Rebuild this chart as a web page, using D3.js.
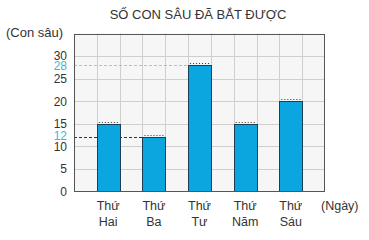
<!DOCTYPE html>
<html>
<head>
<meta charset="utf-8">
<script src="https://cdn.jsdelivr.net/npm/d3@7"></script>
<style>
body { margin: 0; background: #fff; }
text { font-family: "Liberation Sans", Arial, sans-serif; fill: #333; }
</style>
</head>
<body>
<script>
// Days (two-line labels) and number of bugs caught
var days_top = ["Thứ", "Thứ", "Thứ", "Thứ", "Thứ"];
var days_bottom = ["Hai", "Ba", "Tư", "Năm", "Sáu"];
var bugs = [15, 12, 28, 15, 20];
var y_ticks = [0, 5, 10, 15, 20, 25, 30];
var marked = [28, 12]; // values highlighted on the axis

var width = 369, height = 240;
var plot_left = 74, plot_right = 325, plot_top = 33.5, plot_bottom = 191;
var num_cols = 11;

var svg = d3.select("body").append("svg").attr("width", width).attr("height", height);

var x = d3.scaleLinear().domain([0, num_cols]).range([plot_left, plot_right]);
var y = d3.scaleLinear().domain([0, 35]).range([plot_bottom, plot_top]);

// background of the plot area
svg.append("rect")
    .attr("x", plot_left).attr("y", plot_top)
    .attr("width", plot_right - plot_left).attr("height", plot_bottom - plot_top)
    .style("fill", "#f6f6f6");

// grid
svg.selectAll(".vgrid").data(d3.range(1, num_cols)).enter().append("line")
    .attr("x1", function(d){ return Math.round(x(d)) + 0.5; })
    .attr("x2", function(d){ return Math.round(x(d)) + 0.5; })
    .attr("y1", plot_top).attr("y2", plot_bottom)
    .style("stroke", "#cfcfcf");
svg.selectAll(".hgrid").data(d3.range(5, 35, 5)).enter().append("line")
    .attr("x1", plot_left).attr("x2", plot_right)
    .attr("y1", function(d){ return Math.round(y(d)) + 0.5; })
    .attr("y2", function(d){ return Math.round(y(d)) + 0.5; })
    .style("stroke", "#cfcfcf");

// dashed guides for marked values, from axis to the bar
function barIndexOf(v){ return bugs.indexOf(v); }
svg.selectAll(".guide").data(marked).enter().append("line")
    .attr("x1", plot_left)
    .attr("x2", function(d){ return x(barIndexOf(d) * 2 + 1); })
    .attr("y1", function(d){ return Math.round(y(d)) + 0.5; })
    .attr("y2", function(d){ return Math.round(y(d)) + 0.5; })
    .style("stroke", function(d, i){ return i == 0 ? "#bdbdbd" : "#333"; })
    .style("stroke-dasharray", "3,2");

// bars
svg.selectAll(".bar").data(bugs).enter().append("rect")
    .attr("x", function(d, i){ return Math.round(x(i * 2 + 1)) + 0.5; })
    .attr("y", function(d){ return Math.round(y(d)) + 0.5; })
    .attr("width", function(d, i){ return Math.round(x(i * 2 + 2)) - Math.round(x(i * 2 + 1)); })
    .attr("height", function(d){ return plot_bottom - Math.round(y(d)); })
    .style("fill", "#0ba6e0")
    .style("stroke", "#1d3f55");

// dotted marks above the bars
svg.selectAll(".dots").data(bugs).enter().append("line")
    .attr("x1", function(d, i){ return x(i * 2 + 1) + 2; })
    .attr("x2", function(d, i){ return x(i * 2 + 2); })
    .attr("y1", function(d){ return Math.round(y(d)) - 1.5; })
    .attr("y2", function(d){ return Math.round(y(d)) - 1.5; })
    .style("stroke", "#333")
    .style("stroke-dasharray", "1,2");

// frame
svg.append("rect")
    .attr("x", plot_left + 0.5).attr("y", Math.round(plot_top) + 0.5)
    .attr("width", plot_right - plot_left - 1).attr("height", plot_bottom - Math.round(plot_top))
    .style("fill", "none")
    .style("stroke", "#555");

// y tick labels
svg.selectAll(".ytick").data(y_ticks).enter().append("text")
    .attr("x", 67)
    .attr("y", function(d){ return y(d) + (d == 30 ? 3.5 : d == 10 ? 5 : 4.5); })
    .attr("text-anchor", "end")
    .style("font-size", "12px")
    .text(function(d){ return d; });
svg.selectAll(".ymark").data(marked).enter().append("text")
    .attr("x", 67)
    .attr("y", function(d, i){ return y(d) + (i == 0 ? 5 : 3); })
    .attr("text-anchor", "end")
    .style("font-size", "12px")
    .style("fill", "#3bb6d8")
    .text(function(d){ return d; });

// x labels
svg.selectAll(".xtop").data(days_top).enter().append("text")
    .attr("x", function(d, i){ return x(i * 2 + 1.5); })
    .attr("y", 210)
    .attr("text-anchor", "middle")
    .style("font-size", "12.5px")
    .text(function(d){ return d; });
svg.selectAll(".xbottom").data(days_bottom).enter().append("text")
    .attr("x", function(d, i){ return x(i * 2 + 1.5); })
    .attr("y", 225.5)
    .attr("text-anchor", "middle")
    .style("font-size", "12.5px")
    .text(function(d){ return d; });

// titles
svg.append("text").attr("x", 198).attr("y", 19).attr("text-anchor", "middle")
    .style("font-size", "13px").text("SỐ CON SÂU ĐÃ BẮT ĐƯỢC");
svg.append("text").attr("x", 6).attr("y", 37)
    .style("font-size", "13px").text("(Con sâu)");
svg.append("text").attr("x", 321).attr("y", 210)
    .style("font-size", "12.5px").text("(Ngày)");
</script>
</body>
</html>
